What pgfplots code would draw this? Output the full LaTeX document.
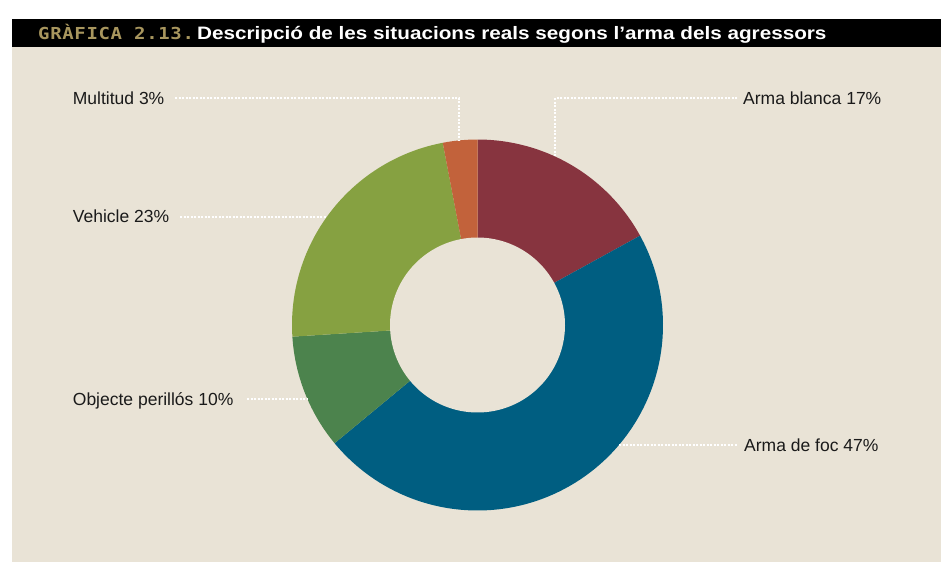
\documentclass[border=0pt]{standalone}
\usepackage{pgfplots}
\pgfplotsset{compat=1.18}
\usepackage{pgfplotstable}
\usepackage{fontspec}
\setmainfont{Liberation Sans}
\newfontfamily\grafont[LetterSpace=4,FakeStretch=1.15]{DejaVu Sans Mono Bold}
\newfontfamily\titlefont[FakeStretch=1.15]{Liberation Sans Bold}
\definecolor{bg}{HTML}{E9E3D6}
\definecolor{cA}{HTML}{87343F}
\definecolor{cB}{HTML}{005E81}
\definecolor{cC}{HTML}{4C834D}
\definecolor{cD}{HTML}{86A141}
\definecolor{cE}{HTML}{C2623B}
\definecolor{gold}{HTML}{A8965E}
\definecolor{txt}{HTML}{1A1A1A}
% percentages of each weapon type (clockwise from 12 o'clock)
\pgfplotstableread{
label value
ArmaBlanca 17
ArmaDeFoc 47
ObjectePerillos 10
Vehicle 23
Multitud 3
}\donutdata
\begin{document}
\begin{tikzpicture}
\begin{axis}[
  hide axis, clip=false,
  x=1pt, y=1pt, y dir=reverse,
  xmin=0, xmax=941, ymin=0, ymax=564,
  anchor=north west, at={(0,0)},
]
% panels
\fill[white] (axis cs:0,0) rectangle (axis cs:941,564);
\fill[bg] (axis cs:12,46) rectangle (axis cs:941,562);
\fill[black] (axis cs:12,19) rectangle (axis cs:941,47);
\node[anchor=base west, inner sep=0pt, text=gold, font=\grafont\fontsize{16.5}{18}\selectfont] at (axis cs:38,39) {GRÀFICA 2.13.};
\node[anchor=base west, inner sep=0pt, text=white, font=\titlefont\fontsize{18}{20}\selectfont] at (axis cs:197,39) {Descripció de les situacions reals segons l’arma dels agressors};
% donut slices (angles = cumulative percent * 3.6)
\addplot[fill=cA, draw=none, domain=0:17*3.6, samples=60, variable=\t] ({477.5+185.5*sin(\t)},{325-185.5*cos(\t)}) -- (axis cs:477.5,325) -- cycle;
\addplot[fill=cB, draw=none, domain=17*3.6:64*3.6, samples=120, variable=\t] ({477.5+185.5*sin(\t)},{325-185.5*cos(\t)}) -- (axis cs:477.5,325) -- cycle;
\addplot[fill=cC, draw=none, domain=64*3.6:74*3.6, samples=40, variable=\t] ({477.5+185.5*sin(\t)},{325-185.5*cos(\t)}) -- (axis cs:477.5,325) -- cycle;
\addplot[fill=cD, draw=none, domain=74*3.6:97*3.6, samples=80, variable=\t] ({477.5+185.5*sin(\t)},{325-185.5*cos(\t)}) -- (axis cs:477.5,325) -- cycle;
\addplot[fill=cE, draw=none, domain=97*3.6:100*3.6, samples=20, variable=\t] ({477.5+185.5*sin(\t)},{325-185.5*cos(\t)}) -- (axis cs:477.5,325) -- cycle;
\addplot[fill=bg, draw=none, domain=0:360, samples=160, variable=\t] ({477.5+87.5*sin(\t)},{325-87.5*cos(\t)}) -- cycle;
% leaders
\tikzset{lead/.style={white, line width=2pt, dash pattern=on 2pt off 1.5pt}}
\draw[lead] (axis cs:175,98.3) -- (axis cs:459,98.3) -- (axis cs:459,140.5);
\draw[lead] (axis cs:737,98.3) -- (axis cs:555,98.3) -- (axis cs:555,156.5);
\draw[lead] (axis cs:180,216.7) -- (axis cs:327,216.7);
\draw[lead] (axis cs:247,399.3) -- (axis cs:307.5,399.3);
\draw[lead] (axis cs:619,445) -- (axis cs:737,445);
% labels
\tikzset{lab/.style={anchor=base west, inner sep=0pt, text=txt, font=\fontsize{17.5}{20}\selectfont}}
\node[lab] at (axis cs:72.7,104) {Multitud 3\%};
\node[lab] at (axis cs:743,104) {Arma blanca 17\%};
\node[lab] at (axis cs:72.7,222.5) {Vehicle 23\%};
\node[lab] at (axis cs:72.7,405) {Objecte perillós 10\%};
\node[lab] at (axis cs:744,451) {Arma de foc 47\%};
\end{axis}
\end{tikzpicture}
\end{document}
